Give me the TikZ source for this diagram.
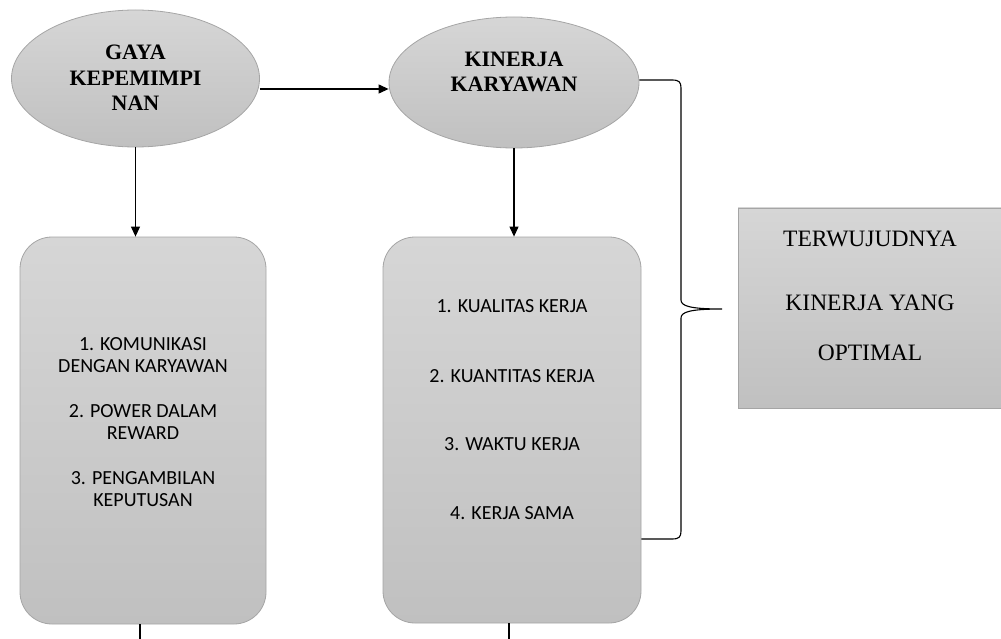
\documentclass[tikz,border=0pt]{standalone}
\usepackage{fontspec}
\setmainfont{Liberation Serif}
\newfontfamily\calibfont{Carlito}
\usetikzlibrary{shapes.geometric,arrows.meta}
\definecolor{fillTop}{RGB}{214,214,214}
\definecolor{fillBot}{RGB}{192,192,192}
\definecolor{edgeGray}{RGB}{165,165,165}
\begin{document}
\begin{tikzpicture}[x=1pt,y=-1pt,
 shaded/.style={top color=fillTop,bottom color=fillBot,draw=edgeGray,line width=0.8pt},
 oval/.style={shaded,ellipse,inner sep=0pt,align=center,font=\fontsize{22}{25.5}\selectfont\bfseries},
 itembox/.style={shaded,rectangle,rounded corners=32pt,inner sep=0pt,align=center,font=\calibfont\fontsize{20}{22}\selectfont},
 goalbox/.style={shaded,rectangle,inner sep=0pt,align=center,font=\fontsize{23.5}{28}\selectfont},
 arr/.style={-{Triangle[length=10pt,width=9pt]},line width=1.1pt,black},
 ln/.style={line width=1.1pt,black}]
\useasboundingbox (0,0) rectangle (1001,639);
\node[oval,minimum width=248pt,minimum height=137pt,text height=65pt,text depth=0pt] (e1) at (135.5,78.5) {GAYA\\KEPEMIMPI\\NAN};
\node[oval,minimum width=250pt,minimum height=131pt,text height=19pt,text depth=0pt] (e2) at (514,82.5) {KINERJA\\KARYAWAN};
\node[itembox,minimum width=246pt,minimum height=387pt,text height=269pt,text depth=118pt] (b1) at (143,430.5)
 {1. KOMUNIKASI\\DENGAN KARYAWAN\\[23pt]2. POWER DALAM\\REWARD\\[23pt]3. PENGAMBILAN\\KEPUTUSAN};
\node[itembox,minimum width=258pt,minimum height=386pt,text height=282.5pt,text depth=103.5pt] (b2) at (512,430)
 {1. KUALITAS KERJA\\[48pt]2. KUANTITAS KERJA\\[46pt]3. WAKTU KERJA\\[47pt]4. KERJA SAMA};
\node[goalbox,minimum width=264pt,minimum height=200pt,text height=152pt,text depth=48pt] (g) at (870,308)
 {TERWUJUDNYA\\[36pt]KINERJA YANG\\[22pt]OPTIMAL};
\draw[arr] (e1.east |- 0,89) -- (e2.west |- 0,89);
\draw[arr] (e1.south) -- (e1.south |- b1.north);
\draw[arr] (e2.south) -- (e2.south |- b2.north);
\coordinate (b1end) at (140,639);
\coordinate (b2end) at (509,639);
\draw[ln] (b1.south -| b1end) -- (b1end);
\draw[ln] (b2.south -| b2end) -- (b2end);
\coordinate (tip) at (722,309);
\draw[ln] (e2.east |- 0,80) -- (672,80) .. controls (679,80) and (681,82) .. (681,88)
 -- (681,300) .. controls (681,306) and (690,309) .. (tip)
 .. controls (690,309) and (681,312) .. (681,318)
 -- (681,531) .. controls (681,537) and (679,539) .. (672,539)
 -- (b2.east |- 0,539);
\end{tikzpicture}
\end{document}
